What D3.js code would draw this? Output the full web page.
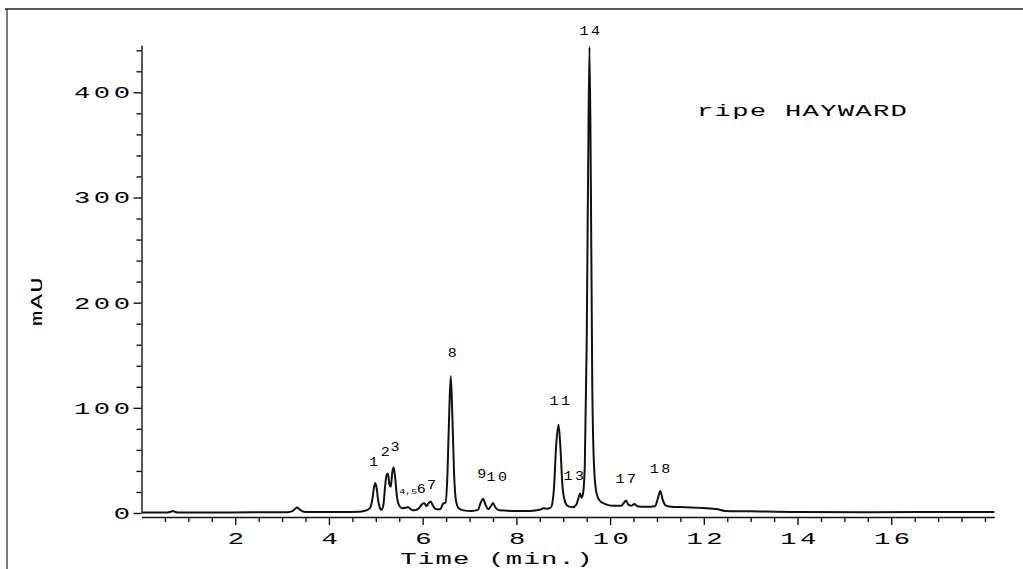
<!DOCTYPE html>
<html>
<head>
<meta charset="utf-8">
<script src="https://cdn.jsdelivr.net/npm/d3@7"></script>
<style>
  body { margin: 0; background: #fff; }
  text { font-family: "Liberation Mono", "DejaVu Sans Mono", monospace; fill: #000; }
</style>
</head>
<body>
<svg id="chart" width="1023" height="569"></svg>
<script>
// chromatogram (time in min, absorbance in mAU)
const times = [0.02, 0.55, 0.62, 0.67, 0.72, 0.8, 1.5, 2.4, 3.12, 3.22, 3.28, 3.32, 3.37, 3.44, 3.57, 4.2,
  4.65, 4.8, 4.88, 4.93, 4.96, 4.99, 5.02, 5.05, 5.09, 5.12, 5.16, 5.2, 5.23, 5.26, 5.29, 5.32, 5.35, 5.38,
  5.41, 5.45, 5.5, 5.56, 5.63, 5.69, 5.75, 5.83, 5.92, 5.98, 6.03, 6.08, 6.12, 6.17, 6.22, 6.29, 6.37,
  6.44, 6.49, 6.53, 6.57, 6.6, 6.63, 6.67, 6.71, 6.77, 6.87, 7.05, 7.18, 7.24, 7.29, 7.34, 7.4, 7.45, 7.5,
  7.55, 7.63, 7.9, 8.3, 8.5, 8.58, 8.66, 8.74, 8.8, 8.85, 8.9, 8.94, 8.98, 9.03, 9.1, 9.2, 9.28, 9.33,
  9.36, 9.39, 9.42, 9.46, 9.5, 9.53, 9.56, 9.59, 9.62, 9.66, 9.71, 9.78, 9.9, 10.05, 10.24, 10.3, 10.34,
  10.39, 10.46, 10.52, 10.58, 10.75, 10.96, 11.02, 11.07, 11.12, 11.19, 11.3, 11.6, 12.0, 12.3, 12.45,
  13.0, 14.0, 15.5, 17.0, 18.2];
const mAU = [0.5, 0.5, 1.2, 1.8, 1.0, 0.4, 0.5, 0.6, 0.8, 1.8, 4, 5.2, 3.5, 1.5, 0.9, 1.0,
  1.3, 2.5, 5, 14, 24, 28.5, 23, 12, 4.5, 3, 7, 26, 36, 37.5, 27, 25, 38, 43.5,
  35, 16, 7, 4.5, 5, 5.5, 3.5, 2.5, 4.5, 8, 9.5, 6.5, 9, 11, 7, 3.5, 3.5,
  9, 10, 38, 100, 130, 98, 38, 12, 4.5, 2.5, 2, 3, 10, 13.5, 8, 3.5, 6, 9.5,
  5.5, 2.5, 2, 2, 3, 4.5, 4, 5.5, 22, 65, 84, 62, 28, 12, 6.5, 5.5, 8, 15,
  18.5, 14.5, 18, 45, 160, 320, 443, 310, 120, 42, 19, 11.5, 8.5, 7, 7, 10, 12,
  8, 7, 8.5, 6.5, 6, 6.5, 14, 21, 13, 7, 6, 5.5, 4.8, 3.5, 2,
  1.6, 0.9, 0.8, 0.9, 1.0];

// peak numbers and where they are written (time, mAU level of the label)
const peakNames = ["1", "2", "3", "4,5", "6", "7", "8", "9", "10", "11", "13", "14", "17", "18"];
const peakLabelTimes = [4.95, 5.20, 5.41, 5.69, 5.97, 6.19, 6.63, 7.26, 7.61, 8.95, 9.25, 9.59, 10.36, 11.09];
const peakLabelLevels = [47.5, 57, 62, 20, 22, 26, 151, 36, 33, 105.5, 34, 457, 31, 41];

const yMajorTicks = [0, 100, 200, 300, 400];
const yMinorTicks = [20, 40, 60, 80, 120, 140, 160, 180, 220, 240, 260, 280, 320, 340, 360, 380, 420, 440];
const xMajorTicks = [2, 4, 6, 8, 10, 12, 14, 16];
const xMinorTicks = [0.5, 1, 1.5, 2.5, 3, 3.5, 4.5, 5, 5.5, 6.5, 7, 7.5, 8.5, 9, 9.5, 10.5, 11, 11.5,
  12.5, 13, 13.5, 14.5, 15, 15.5, 16.5, 17, 17.5, 18];

const sampleTitle = "ripe HAYWARD";
const xTitle = "Time (min.)";
const yTitle = "mAU";

const svg = d3.select("#chart");

const x = d3.scaleLinear().domain([0, 18.2]).range([141.5, 141.5 + 18.2 * 46.86]);
const y = d3.scaleLinear().domain([0, 445]).range([513, 45]);

// plotter style lettering: monospace, stretched wide by the caller's transform
function plotterText(sel, size, ls) {
  sel.style("font-size", size + "px")
     .style("letter-spacing", ls + "px")
     .attr("fill", "#000");
  return sel;
}

// scan frame (top and left edge)
svg.append("line").attr("x1", 5).attr("x2", 1023).attr("y1", 9).attr("y2", 9)
  .attr("stroke", "#222").attr("stroke-width", 1.4);
svg.append("line").attr("x1", 7).attr("x2", 7).attr("y1", 9).attr("y2", 569)
  .attr("stroke", "#222").attr("stroke-width", 1.2);

// y axis
const gy = svg.append("g").attr("transform", `translate(${x(0)},0)`)
  .call(d3.axisLeft(y).tickValues(yMajorTicks).tickSize(8).tickSizeOuter(0).tickFormat(d3.format("d")));
svg.append("g").attr("transform", `translate(${x(0)},0)`)
  .call(d3.axisLeft(y).tickValues(yMinorTicks).tickSize(5).tickSizeOuter(0).tickFormat(""))
  .select(".domain").remove();

// x axis sits a few pixels under the zero line
const x0 = y(0) + 4;
const gx = svg.append("g").attr("transform", `translate(0,${x0})`)
  .call(d3.axisBottom(x).tickValues(xMajorTicks).tickSize(8).tickSizeOuter(0).tickFormat(d3.format("d")));
svg.append("g").attr("transform", `translate(0,${x0})`)
  .call(d3.axisBottom(x).tickValues(xMinorTicks).tickSize(5).tickSizeOuter(0).tickFormat(""))
  .select(".domain").remove();

svg.selectAll(".domain, .tick line").attr("stroke", "#111").attr("stroke-width", 1.4);

gy.selectAll(".tick text")
  .attr("x", null).attr("dy", null)
  .attr("text-anchor", "end")
  .attr("dominant-baseline", "central")
  .attr("transform", "translate(-8,1) scale(1.6,1)")
  .call(plotterText, 17, 2.2);

gx.selectAll(".tick text")
  .attr("y", null).attr("dy", null)
  .attr("text-anchor", "middle")
  .attr("dominant-baseline", "central")
  .attr("transform", "translate(2,23) scale(1.6,1)")
  .call(plotterText, 17, 2.2);

svg.selectAll(".tick text").style("font-family", '"Liberation Mono", "DejaVu Sans Mono", monospace');

// trace
const line = d3.line()
  .x((d, i) => x(times[i]))
  .y(d => y(d))
  .curve(d3.curveMonotoneX);

svg.append("path")
  .attr("d", line(mAU))
  .attr("fill", "none")
  .attr("stroke", "#111")
  .attr("stroke-width", 2)
  .attr("stroke-linejoin", "round");

// peak numbers
svg.append("g").selectAll("text")
  .data(peakNames)
  .join("text")
  .attr("text-anchor", "middle")
  .attr("dominant-baseline", "central")
  .attr("fill", "#000")
  .attr("transform", (d, i) => `translate(${x(peakLabelTimes[i])},${y(peakLabelLevels[i])}) scale(1.25,1)`)
  .style("font-size", d => d === "4,5" ? "8px" : "12px")
  .style("letter-spacing", d => d.length === 2 ? "2px" : "0px")
  .text(d => d);

// titles
svg.append("text")
  .attr("transform", "translate(697,112) scale(1.6,1)")
  .attr("dominant-baseline", "central")
  .call(plotterText, 17, 0.8)
  .text(sampleTitle);

svg.append("text")
  .attr("transform", "translate(497,560) scale(1.6,1)")
  .attr("text-anchor", "middle")
  .attr("dominant-baseline", "central")
  .call(plotterText, 17, 0.8)
  .text(xTitle);

svg.append("text")
  .attr("transform", "translate(38,301) rotate(-90) scale(1.6,1)")
  .attr("text-anchor", "middle")
  .attr("dominant-baseline", "central")
  .call(plotterText, 16, 0.8)
  .text(yTitle);
</script>
</body>
</html>
